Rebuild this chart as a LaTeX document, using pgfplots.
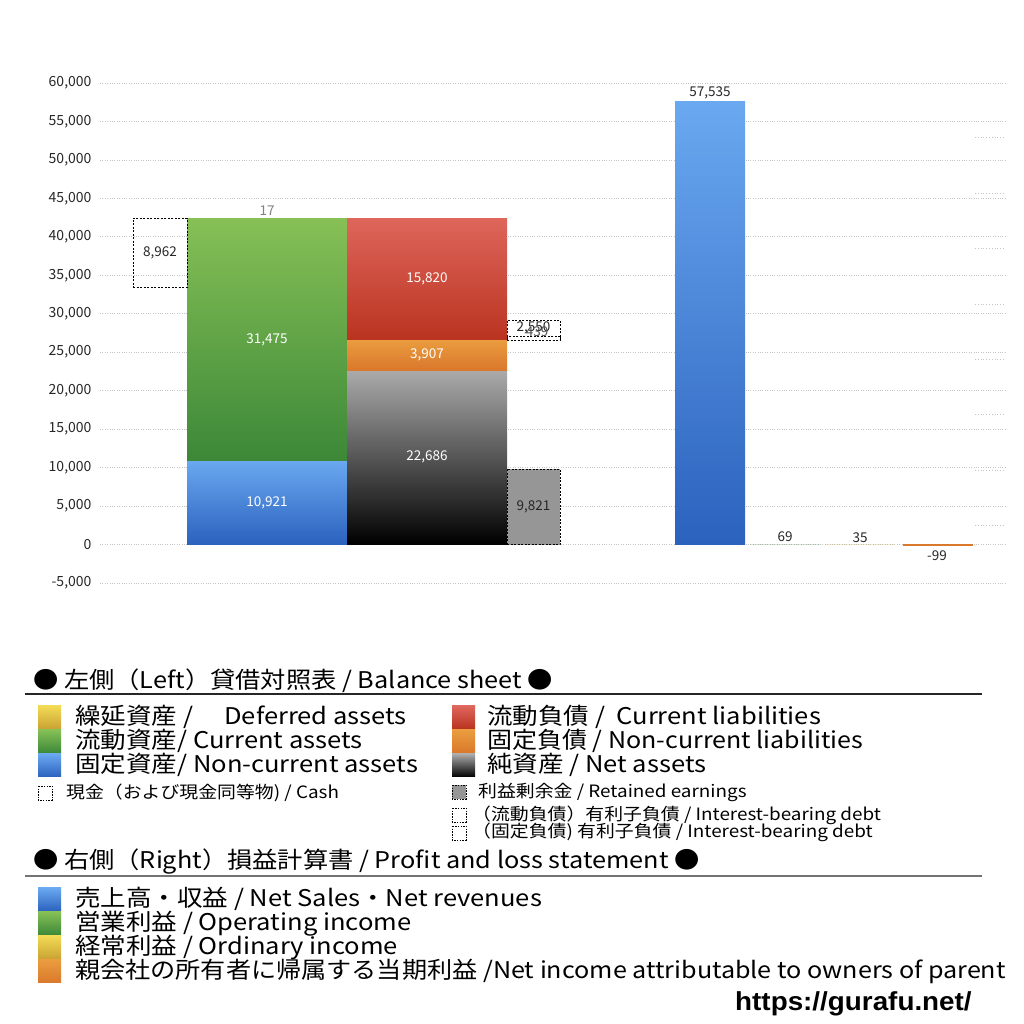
\documentclass[border=0pt]{standalone}
\usepackage{pgfplots}
\pgfplotsset{compat=1.18}
\usepackage{fontspec}
\setmainfont{Noto Sans CJK JP}
\newfontfamily\lib{Liberation Sans}
\definecolor{gridc}{HTML}{C4C4C4}
\definecolor{blueT}{HTML}{6AA8F0}
\definecolor{blueB}{HTML}{2B62BE}
\definecolor{greenT}{HTML}{86C056}
\definecolor{greenB}{HTML}{3C8838}
\definecolor{yelT}{HTML}{F2DA55}
\definecolor{yelB}{HTML}{C9A232}
\definecolor{redT}{HTML}{DE665B}
\definecolor{redB}{HTML}{BA3320}
\definecolor{orT}{HTML}{EA9C3E}
\definecolor{orB}{HTML}{DA782C}
\definecolor{grT}{HTML}{ABABAB}
\definecolor{grB}{HTML}{000000}
\definecolor{reC}{HTML}{969696}
\newcommand{\sq}[5]{\shade[top color=#3,bottom color=#4] (#1,#2) rectangle ++(#5,-#5);}
\begin{document}
\begin{tikzpicture}[x=1pt,y=1pt]
\path[use as bounding box] (0pt,0pt) rectangle (1024pt,1024pt);
\begin{axis}[
  at={(100pt,441pt)}, anchor=south west,
  width=905pt, height=500pt, scale only axis,
  xmin=100, xmax=1005, ymin=-5000, ymax=60000,
  axis line style={draw=none},
  major tick length=0pt,
  xtick=\empty,
  ytick={-5000,0,5000,10000,15000,20000,25000,30000,35000,40000,45000,50000,55000,60000},
  ymajorgrids,
  grid style={gridc, dotted, line width=0.8pt},
  yticklabel style={font=\fontsize{14}{16}\selectfont, text=black!85, xshift=-5pt},
  /pgf/number format/.cd, 1000 sep={,}, assume math mode=true,
  /pgfplots/.cd,
  scaled y ticks=false,
  clip=false,
]
% Balance sheet - assets
\addplot[draw=none, top color=blueT, bottom color=blueB] coordinates {(187,0) (347,0) (347,10921) (187,10921)} -- cycle;
\addplot[draw=none, top color=greenT, bottom color=greenB] coordinates {(187,10921) (347,10921) (347,42396) (187,42396)} -- cycle;
\addplot[draw=none, top color=yelT, bottom color=yelB] coordinates {(187,42396) (347,42396) (347,42413) (187,42413)} -- cycle;
% cash
\addplot[black, dash pattern=on 2pt off 1.5pt, line width=0.9pt] coordinates {(133,33451) (187,33451) (187,42413) (133,42413)} -- cycle;
% liabilities / net assets
\addplot[draw=none, top color=grT, bottom color=grB] coordinates {(347,0) (507,0) (507,22686) (347,22686)} -- cycle;
\addplot[draw=none, top color=orT, bottom color=orB] coordinates {(347,22686) (507,22686) (507,26593) (347,26593)} -- cycle;
\addplot[draw=none, top color=redT, bottom color=redB] coordinates {(347,26593) (507,26593) (507,42413) (347,42413)} -- cycle;
% retained earnings
\addplot[black, fill=reC, dash pattern=on 2pt off 1.5pt, line width=0.9pt] coordinates {(507,0) (560,0) (560,9821) (507,9821)} -- cycle;
% interest-bearing debt
\addplot[black, dash pattern=on 2pt off 1.5pt, line width=0.9pt] coordinates {(507,26593) (560,26593) (560,29143) (507,29143)} -- cycle;
\addplot[black, dash pattern=on 2pt off 1.5pt, line width=0.9pt] coordinates {(507,26593) (560,26593) (560,27032) (507,27032)} -- cycle;
% P&L
\addplot[draw=none, top color=blueT, bottom color=blueB] coordinates {(675,0) (745,0) (745,57535) (675,57535)} -- cycle;
\addplot[draw=none, fill=greenB, fill opacity=0.2] coordinates {(750,0) (820,0) (820,69) (750,69)} -- cycle;
\addplot[draw=none, fill=yelB, fill opacity=0.2] coordinates {(825,0) (895,0) (895,35) (825,35)} -- cycle;
\addplot[draw=orB, fill=orB, line width=0.7pt] coordinates {(903,0) (972,0) (972,-99) (903,-99)} -- cycle;

% labels
\begin{scope}[every node/.style={font=\fontsize{13.5}{15}\selectfont}]
\node[text=white] at (axis cs:267,5460) {10,921};
\node[text=white] at (axis cs:267,26659) {31,475};
\node[text=gray] at (axis cs:267,43350) {17};
\node[text=black!85] at (axis cs:160,37932) {8,962};
\node[text=white] at (axis cs:427,11343) {22,686};
\node[text=white] at (axis cs:427,24640) {3,907};
\node[text=white] at (axis cs:427,34503) {15,820};
\node[text=black!85] at (axis cs:533.5,4910) {9,821};
\node[text=black!85] at (axis cs:533.5,28150) {2,550};
\node[text=black!70] at (axis cs:537,27650) {439};
\node[text=black!85] at (axis cs:710,58750) {57,535};
\node[text=black!85] at (axis cs:785,1050) {69};
\node[text=black!85] at (axis cs:860,950) {35};
\node[text=black!85] at (axis cs:937,-1400) {-99};
\end{scope}
\end{axis}

% stray dotted segments at the right edge
\foreach \yy in {137,193,248,304,359,414,470,525} {
  \draw[gridc, dotted, line width=0.8pt] (975pt,1024pt-\yy pt) -- (1005pt,1024pt-\yy pt);
}

% ---------- Legend ----------
\def\fb{\fontsize{23}{25}\selectfont}
\def\fs{\fontsize{17}{19}\selectfont}
\tikzset{lt/.style={anchor=base west, inner sep=0, xscale=1.11}}
% heading 1
\node[lt, font=\fb, xscale=0.99] at (33,335) {● 左側（Left）貸借対照表 / Balance sheet ●};
\draw[black!85, line width=1.2pt] (25,330) -- (982,330);
% rows
\sq{38}{318}{yelT}{yelB}{23}
\node[lt, font=\fb] at (75,299) {繰延資産 /　\ Deferred assets};
\sq{38}{294}{greenT}{greenB}{23}
\node[lt, font=\fb] at (75,275) {流動資産/ Current assets};
\sq{38}{270}{blueT}{blueB}{23}
\node[lt, font=\fb] at (75,251) {固定資産/ Non-current assets};
\draw[black, dash pattern=on 1.5pt off 1.2pt, line width=0.7pt] (38,238) rectangle (52,224);
\node[lt, font=\fs] at (66,225) {現金（および現金同等物) / Cash};

\sq{452}{318}{redT}{redB}{23}
\node[lt, font=\fb] at (487,299) {流動負債 /\ \ Current liabilities};
\sq{452}{294}{orT}{orB}{23}
\node[lt, font=\fb, xscale=0.98] at (487,275) {固定負債 / Non-current liabilities};
\sq{452}{270}{grT}{grB}{23}
\node[lt, font=\fb] at (487,251) {純資産 / Net assets};
\draw[black, fill=reC, dash pattern=on 1.5pt off 1.2pt, line width=0.7pt] (452,239) rectangle (466,225);
\node[lt, font=\fs] at (478,226) {利益剰余金 / Retained earnings};
\draw[black, dash pattern=on 1.5pt off 1.2pt, line width=0.7pt] (452,216) rectangle (466,202);
\node[lt, font=\fs] at (472,203) {（流動負債）有利子負債 / Interest-bearing debt};
\draw[black, dash pattern=on 1.5pt off 1.2pt, line width=0.7pt] (452,198) rectangle (466,184);
\node[lt, font=\fs] at (472,186) {（固定負債) 有利子負債 / Interest-bearing debt};

% heading 2
\node[lt, font=\fb, xscale=0.99] at (33,155) {● 右側（Right）損益計算書 / Profit and loss statement ●};
\draw[black!55, line width=1.5pt] (25,148) -- (982,148);
\sq{38}{136}{blueT}{blueB}{23}
\node[lt, font=\fb] at (75,117) {売上高・収益 / Net Sales・Net revenues};
\sq{38}{112}{greenT}{greenB}{23}
\node[lt, font=\fb] at (75,93) {営業利益 / Operating income};
\sq{38}{88}{yelT}{yelB}{23}
\node[lt, font=\fb] at (75,69) {経常利益 / Ordinary income};
\sq{38}{64}{orT}{orB}{23}
\node[lt, font=\fb, xscale=0.985] at (75,45) {親会社の所有者に帰属する当期利益 /Net income attributable to owners of parent};
\node[anchor=base west, inner sep=0, xscale=1.07, font={\lib\bfseries\fontsize{26}{28}\selectfont}] at (735,13) {https://gurafu.net/};
\end{tikzpicture}
\end{document}
